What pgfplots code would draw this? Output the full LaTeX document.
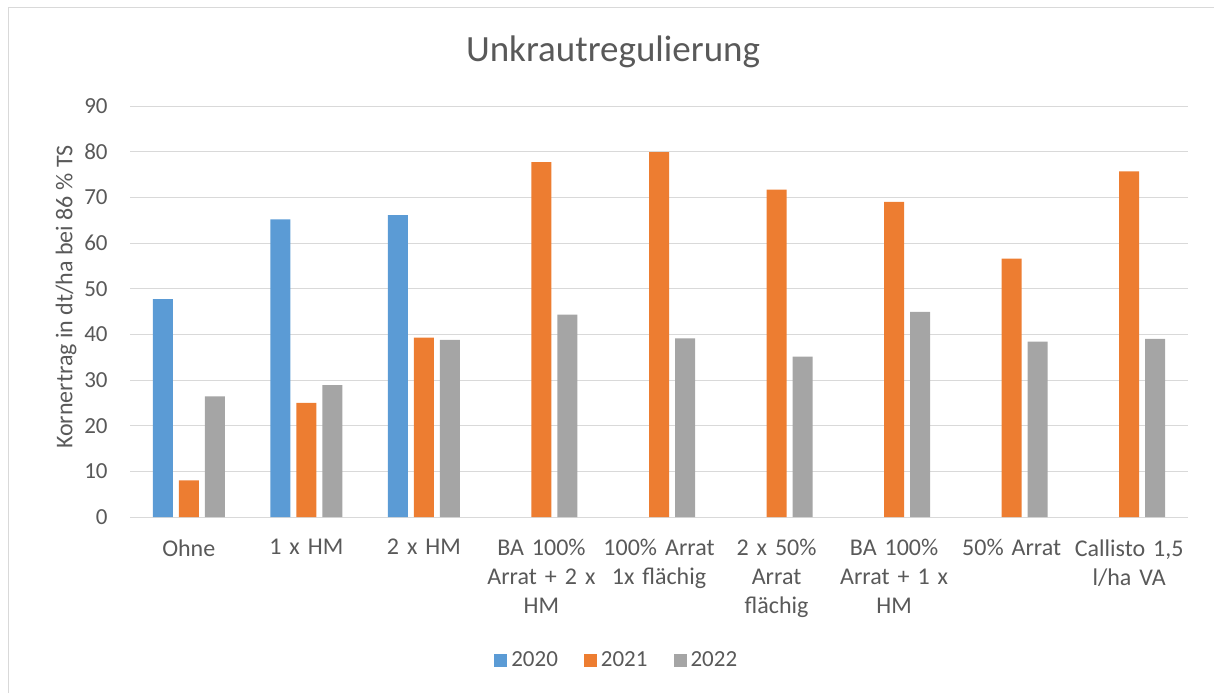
\documentclass[border=0pt]{standalone}
\usepackage{fontspec}
\setmainfont{Carlito}
\newfontfamily\catfont[WordSpace=0.8]{Carlito}
\usepackage{pgfplots}
\pgfplotsset{compat=1.18}
\definecolor{c20}{HTML}{5B9BD5}
\definecolor{c21}{HTML}{ED7D31}
\definecolor{c22}{HTML}{A5A5A5}
\definecolor{gridc}{HTML}{D9D9D9}
\definecolor{txt}{HTML}{595959}
\pgfplotstableread{
x y20 y21 y22
0 47.7 8.0 26.4
1 65.2 25.0 28.9
2 66.1 39.3 38.8
3 nan 77.7 44.3
4 nan 79.9 39.1
5 nan 71.7 35.1
6 nan 69.0 44.9
7 nan 56.6 38.4
8 nan 75.7 39.0
}\datatable
\begin{document}
\begin{tikzpicture}
\path[use as bounding box] (0pt,0pt) rectangle (607pt,346.5pt);
\draw[gridc, line width=0.5pt] (4pt,0pt) -- (4pt,343pt) -- (607pt,343pt);
\begin{axis}[
  at={(65pt,88pt)}, anchor=south west,
  scale only axis, width=529pt, height=205.5pt,
  ybar=3pt, bar width=10pt,
  xmin=-0.5, xmax=8.5, ymin=0, ymax=90,
  ytick={0,10,...,90},
  xtick={0,...,8},
  xticklabels={Ohne, 1 x HM, 2 x HM, {BA 100\%\\Arrat + 2 x\\HM}, {100\% Arrat\\1x flächig}, {2 x 50\%\\Arrat\\flächig}, {BA 100\%\\Arrat + 1 x\\HM}, 50\% Arrat, {Callisto 1,5\\l/ha VA}},
  /pgf/number format/assume math mode=true,
  axis line style={draw=none},
  major tick length=0pt,
  ymajorgrids, grid style={gridc, line width=0.5pt},
  yticklabel style={anchor=east, inner sep=0pt, xshift=-11pt, font=\fontsize{11.5}{13}\selectfont, text=txt},
  xticklabel style={anchor=north, text width=64pt, align=center, inner sep=0pt, yshift=-11pt, font=\catfont\fontsize{12}{14.5}\selectfont, text=txt},
  legend style={at={(0.461,-0.348)}, anchor=center, draw=none, fill=none, legend columns=3, font=\fontsize{11.5}{13}\selectfont, text=txt,
    /tikz/every even column/.append style={column sep=11pt}},
  clip=false,
]
\addplot[fill=c20, draw=none, legend image code/.code={\fill[c20] (0pt,-3.25pt) rectangle (6.5pt,3.25pt);}] table[x=x,y=y20] {\datatable};
\addlegendentry{2020}
\addplot[fill=c21, draw=none, legend image code/.code={\fill[c21] (0pt,-3.25pt) rectangle (6.5pt,3.25pt);}] table[x=x,y=y21] {\datatable};
\addlegendentry{2021}
\addplot[fill=c22, draw=none, legend image code/.code={\fill[c22] (0pt,-3.25pt) rectangle (6.5pt,3.25pt);}] table[x=x,y=y22] {\datatable};
\addlegendentry{2022}
\end{axis}
\node[rotate=90, text=txt, font=\fontsize{12}{14}\selectfont] at (33pt,198pt) {Kornertrag in dt/ha bei 86 \% TS};
\node[text=txt, font=\fontsize{18.5}{22}\selectfont] at (306.5pt,320.5pt) {Unkrautregulierung};
\end{tikzpicture}
\end{document}
